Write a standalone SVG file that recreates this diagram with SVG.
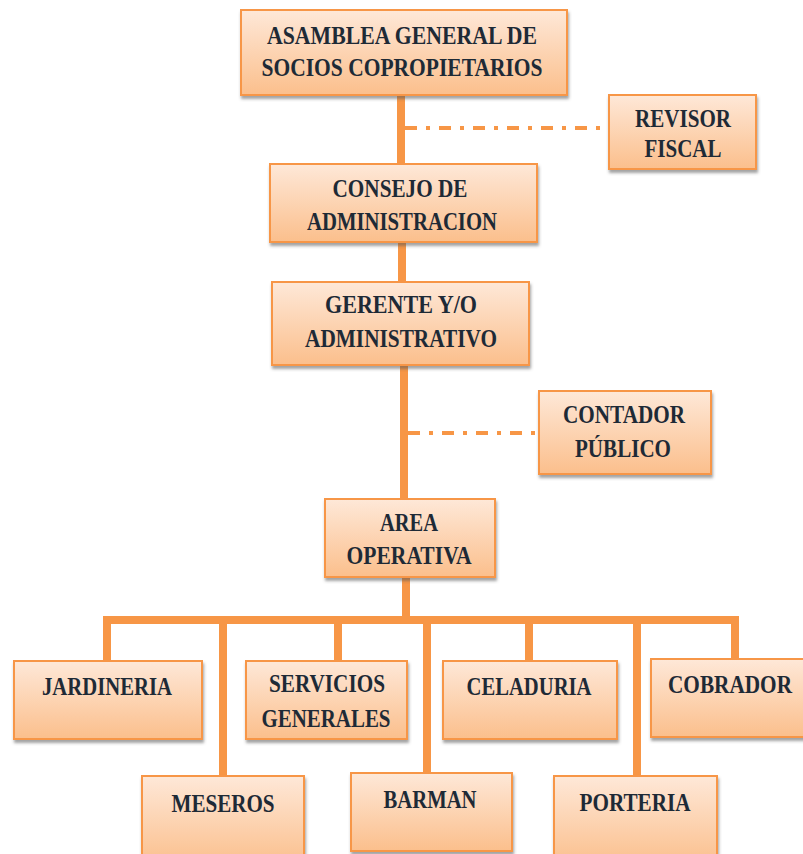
<svg xmlns="http://www.w3.org/2000/svg" width="803" height="854" viewBox="0 0 803 854">
<defs>
<linearGradient id="g" x1="0" y1="0" x2="0" y2="1">
<stop offset="0" stop-color="#fee8d8"/>
<stop offset="1" stop-color="#fbbf8c"/>
</linearGradient>
<filter id="sh" x="-10%" y="-10%" width="120%" height="130%">
<feDropShadow dx="1" dy="3" stdDeviation="1.8" flood-color="#555" flood-opacity="0.55"/>
</filter>
<style>
.box{fill:url(#g);stroke:#f79646;stroke-width:2;filter:url(#sh)}
.t{font-family:"Liberation Serif","Times New Roman",serif;font-weight:bold;font-size:25px;fill:#1e2a36;text-anchor:middle}
.c{stroke:#f79646;stroke-width:8;fill:none}
.d{stroke:#f79646;stroke-width:4;fill:none;stroke-dasharray:12 9 4 9}
</style>
</defs>
<rect width="803" height="854" fill="#fff"/>
<g id="connectors">
<line class="c" x1="401" y1="95" x2="401" y2="164"/>
<line class="c" x1="402" y1="242" x2="402" y2="282"/>
<line class="c" x1="404" y1="365" x2="404" y2="499"/>
<line class="c" x1="406" y1="577" x2="406" y2="620"/>
<path class="c" d="M107,661 V620 H735 V659"/>
<line class="c" x1="223" y1="620" x2="223" y2="776"/>
<line class="c" x1="338" y1="620" x2="338" y2="661"/>
<line class="c" x1="427" y1="620" x2="427" y2="773"/>
<line class="c" x1="529" y1="620" x2="529" y2="661"/>
<line class="c" x1="637" y1="620" x2="637" y2="776"/>
<line class="d" x1="405" y1="128" x2="609" y2="128"/>
<line class="d" x1="408" y1="433" x2="539" y2="433"/>
</g>
<g id="asamblea">
<rect class="box" x="241" y="10" width="326" height="85"/>
<text class="t" x="402" y="44" textLength="270" lengthAdjust="spacingAndGlyphs">ASAMBLEA  GENERAL DE</text>
<text class="t" x="402" y="76" textLength="281" lengthAdjust="spacingAndGlyphs">SOCIOS COPROPIETARIOS</text>
</g>
<g id="revisor">
<rect class="box" x="609" y="95" width="147" height="74"/>
<text class="t" x="683" y="127" textLength="96" lengthAdjust="spacingAndGlyphs">REVISOR</text>
<text class="t" x="683" y="157" textLength="77" lengthAdjust="spacingAndGlyphs">FISCAL</text>
</g>
<g id="consejo">
<rect class="box" x="270" y="164" width="267" height="78"/>
<text class="t" x="400" y="197" textLength="135" lengthAdjust="spacingAndGlyphs">CONSEJO DE</text>
<text class="t" x="402" y="230" textLength="190" lengthAdjust="spacingAndGlyphs">ADMINISTRACION</text>
</g>
<g id="gerente">
<rect class="box" x="272" y="282" width="257" height="83"/>
<text class="t" x="401" y="313" textLength="152" lengthAdjust="spacingAndGlyphs">GERENTE  Y/O</text>
<text class="t" x="401" y="347" textLength="192" lengthAdjust="spacingAndGlyphs">ADMINISTRATIVO</text>
</g>
<g id="contador">
<rect class="box" x="539" y="391" width="172" height="83"/>
<text class="t" x="624" y="423" textLength="122" lengthAdjust="spacingAndGlyphs">CONTADOR</text>
<text class="t" x="623" y="457" textLength="96" lengthAdjust="spacingAndGlyphs">PÚBLICO</text>
</g>
<g id="area">
<rect class="box" x="325" y="499" width="170" height="78"/>
<text class="t" x="409" y="531" textLength="58" lengthAdjust="spacingAndGlyphs">AREA</text>
<text class="t" x="409" y="564" textLength="125" lengthAdjust="spacingAndGlyphs">OPERATIVA</text>
</g>
<g id="jardineria">
<rect class="box" x="14" y="661" width="188" height="78"/>
<text class="t" x="107" y="695" textLength="130" lengthAdjust="spacingAndGlyphs">JARDINERIA</text>
</g>
<g id="servicios">
<rect class="box" x="246" y="661" width="161" height="78"/>
<text class="t" x="327" y="692" textLength="116" lengthAdjust="spacingAndGlyphs">SERVICIOS</text>
<text class="t" x="326" y="727" textLength="129" lengthAdjust="spacingAndGlyphs">GENERALES</text>
</g>
<g id="celaduria">
<rect class="box" x="443" y="661" width="174" height="78"/>
<text class="t" x="529" y="695" textLength="125" lengthAdjust="spacingAndGlyphs">CELADURIA</text>
</g>
<g id="cobrador">
<rect class="box" x="651" y="659" width="160" height="78"/>
<text class="t" x="730" y="693" textLength="124" lengthAdjust="spacingAndGlyphs">COBRADOR</text>
</g>
<g id="meseros">
<rect class="box" x="142" y="776" width="162" height="90"/>
<text class="t" x="223" y="812" textLength="103" lengthAdjust="spacingAndGlyphs">MESEROS</text>
</g>
<g id="barman">
<rect class="box" x="351" y="773" width="161" height="78"/>
<text class="t" x="430" y="808" textLength="93" lengthAdjust="spacingAndGlyphs">BARMAN</text>
</g>
<g id="porteria">
<rect class="box" x="554" y="776" width="163" height="90"/>
<text class="t" x="635" y="811" textLength="111" lengthAdjust="spacingAndGlyphs">PORTERIA</text>
</g>
</svg>
